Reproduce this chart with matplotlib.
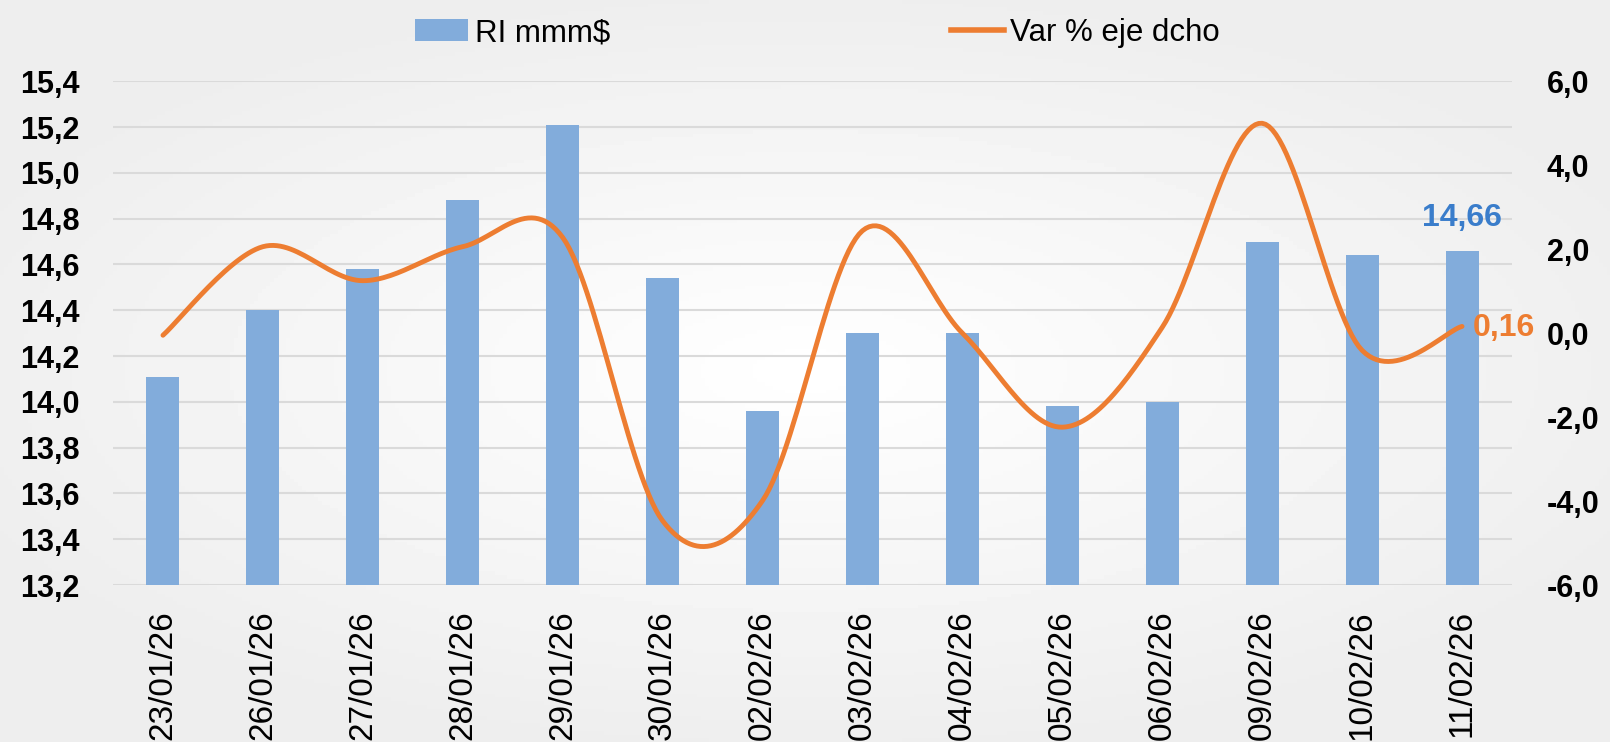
import numpy as np
import matplotlib
matplotlib.use("Agg")
import matplotlib.pyplot as plt
from matplotlib.patches import Patch
from matplotlib.lines import Line2D

# data
fechas = ["23/01/26", "26/01/26", "27/01/26", "28/01/26", "29/01/26", "30/01/26", "02/02/26",
          "03/02/26", "04/02/26", "05/02/26", "06/02/26", "09/02/26", "10/02/26", "11/02/26"]
ri = [14.11, 14.40, 14.58, 14.88, 15.21, 14.54, 13.96, 14.30, 14.30, 13.98, 14.00, 14.70, 14.64, 14.66]
var = [-0.05, 2.06, 1.25, 2.06, 2.28, -4.47, -3.99, 2.44, 0.0, -2.24, 0.14, 5.00, -0.41, 0.16]

left_ticks = [13.2, 13.4, 13.6, 13.8, 14.0, 14.2, 14.4, 14.6, 14.8, 15.0, 15.2, 15.4]
right_ticks = [-6.0, -4.0, -2.0, 0.0, 2.0, 4.0, 6.0]

bar_color = "#82ACDB"
line_color = "#ED7D31"


def smooth(xs, ys, n=30):
    # excel-like smoothed line (catmull-rom as cubic bezier)
    p = np.column_stack([xs, ys]).astype(float)
    p = np.vstack([p[0], p, p[-1]])
    out = []
    t = np.linspace(0, 1, n)[:, None]
    for i in range(1, len(p) - 2):
        p0, p1, p2, p3 = p[i - 1], p[i], p[i + 1], p[i + 2]
        c1 = p1 + (p2 - p0) / 6
        c2 = p2 - (p3 - p1) / 6
        seg = ((1 - t) ** 3) * p1 + 3 * ((1 - t) ** 2) * t * c1 + 3 * (1 - t) * t ** 2 * c2 + t ** 3 * p2
        out.append(seg)
    out = np.vstack(out)
    return out[:, 0], out[:, 1]


fig = plt.figure(figsize=(16.1, 7.42), dpi=100)
fig.patch.set_facecolor("#F4F4F4")

# soft radial background
bg = fig.add_axes([0, 0, 1, 1], zorder=-10)
gx, gy = np.meshgrid(np.linspace(-1, 1, 400), np.linspace(-1, 1, 200))
r = np.sqrt(gx ** 2 + (gy * 1.1) ** 2)
bg.imshow(np.clip(1.0 - 0.06 * r, 0.93, 1.0), cmap="gray", vmin=0, vmax=1, aspect="auto")
bg.axis("off")

top, bottom = 81.3, 585.0
ax = fig.add_axes([113 / 1610, 1 - bottom / 742, 1399 / 1610, (bottom - top) / 742])
ax.patch.set_alpha(0)
x = np.arange(len(fechas))
ax.bar(x, ri, width=0.33, color=bar_color, zorder=2)
ax.set_xlim(-0.5, len(fechas) - 0.5)
ax.set_ylim(13.2, 15.4)
ax.set_yticks(left_ticks)
ax.set_yticklabels([f"{v:.1f}".replace(".", ",") for v in left_ticks],
                   fontsize=22, fontweight="bold", family="Liberation Sans")
ax.set_xticks(x)
ax.set_xticklabels(fechas, rotation=90, fontsize=24, family="Liberation Sans", va="top")
ax.tick_params(axis="both", length=0)
ax.tick_params(axis="y", pad=24)
ax.tick_params(axis="x", pad=18)
ax.grid(axis="y", color="#DADADA", linewidth=1.5, zorder=0)
ax.set_axisbelow(True)
for s in ax.spines.values():
    s.set_visible(False)

ax2 = ax.twinx()
sx, sy = smooth(x, var)
ax2.plot(sx, sy, color=line_color, linewidth=3.5, solid_capstyle="round", zorder=3)
ax2.set_ylim(-6, 6)
ax2.set_yticks(right_ticks)
ax2.set_yticklabels([f"{v:.1f}".replace(".", ",") for v in right_ticks],
                    fontsize=22, fontweight="bold", family="Liberation Sans")
ax2.tick_params(axis="y", length=0, pad=25)
for s in ax2.spines.values():
    s.set_visible(False)

# data labels on last point
ax.annotate(f"{ri[-1]:.2f}".replace(".", ","), (x[-1], ri[-1]), xytext=(0, 13),
            textcoords="offset points", ha="center", va="bottom",
            fontsize=23, fontweight="bold", color="#3A7DCB", family="Liberation Sans")
ax2.annotate(f"{var[-1]:.2f}".replace(".", ","), (x[-1], var[-1]), xytext=(8, -1),
             textcoords="offset points", ha="left", va="center",
             fontsize=23, fontweight="bold", color=line_color, family="Liberation Sans")

handles = [Patch(facecolor=bar_color, edgecolor="none"),
           Line2D([0], [0], color=line_color, linewidth=4)]
fig.legend(handles, ["RI mmm$", "Var % eje dcho"], loc="center", bbox_to_anchor=(0.5078, 1 - 33 / 742),
           ncol=2, frameon=False, prop={"family": "Liberation Sans", "size": 22.5},
           handlelength=1.7, handleheight=0.7, handletextpad=0.2, columnspacing=10.9)

fig.savefig("out.png", dpi=100, facecolor=fig.get_facecolor())
